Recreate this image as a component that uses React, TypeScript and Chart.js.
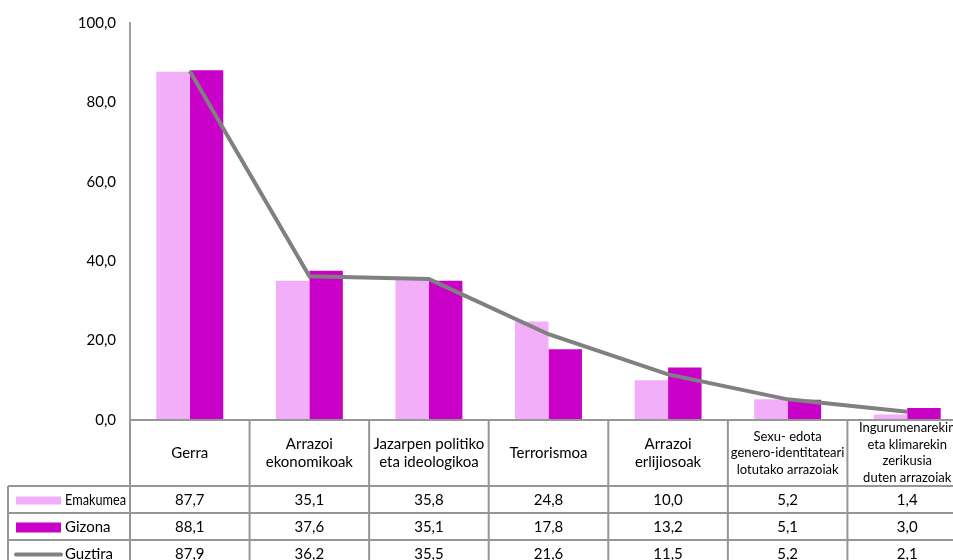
import React, { useEffect, useRef } from 'react';
import { Chart, registerables } from 'chart.js';

Chart.register(...registerables);

const categories: string[][] = [
  ['Gerra'],
  ['Arrazoi', 'ekonomikoak'],
  ['Jazarpen politiko', 'eta ideologikoa'],
  ['Terrorismoa'],
  ['Arrazoi', 'erlijiosoak'],
  ['Sexu- edota', 'genero-identitateari', 'lotutako arrazoiak'],
  ['Ingurumenarekin', 'eta klimarekin', 'zerikusia', 'duten arrazoiak'],
];
const seriesNames = ['Emakumea', 'Gizona', 'Guztira'];
const emakumea = [87.7, 35.1, 35.8, 24.8, 10.0, 5.2, 1.4];
const gizona = [88.1, 37.6, 35.1, 17.8, 13.2, 5.1, 3.0];
const guztira = [87.9, 36.2, 35.5, 21.6, 11.5, 5.2, 2.1];
const yTicks = [0, 20, 40, 60, 80, 100];

const PINK = 'rgb(243,174,250)';
const MAGENTA = 'rgb(200,0,200)';
const GREY = 'rgb(128,128,128)';
const BORDER = 'rgb(150,150,150)';
const FONT = 'Lato, "Open Sans", sans-serif';

const fmt = (v: number) => v.toFixed(1).replace('.', ',');

const tablePlugin = {
  id: 'dataTable',
  afterDraw(chart: any) {
    const ctx = chart.ctx as CanvasRenderingContext2D;
    const x = chart.scales.x;
    const area = chart.chartArea;
    const n = categories.length;
    const colW = (area.right - area.left) / n;
    const top = area.bottom;
    const headerBottom = top + 66;
    const rowH = 27;
    const rows = [emakumea, gizona, guztira];
    const legendLeft = 8;
    ctx.save();
    ctx.strokeStyle = BORDER;
    ctx.lineWidth = 2;
    ctx.beginPath();
    ctx.moveTo(area.left, top);
    ctx.lineTo(area.right, top);
    for (let r = 0; r <= 3; r++) {
      const y = headerBottom + r * rowH;
      ctx.moveTo(legendLeft, y);
      ctx.lineTo(area.right, y);
    }
    for (let i = 0; i <= n; i++) {
      const xx = area.left + i * colW;
      ctx.moveTo(xx, top);
      ctx.lineTo(xx, headerBottom + 3 * rowH + 10);
    }
    ctx.moveTo(legendLeft, headerBottom);
    ctx.lineTo(legendLeft, headerBottom + 3 * rowH + 10);
    ctx.stroke();

    ctx.fillStyle = '#000';
    ctx.textAlign = 'center';
    ctx.textBaseline = 'middle';
    categories.forEach((lines, i) => {
      const cx = x.getPixelForValue(i);
      const small = lines.length >= 3;
      const fs = small ? 13 : 15;
      const lh = small ? 16.5 : 18;
      ctx.font = `${fs}px ${FONT}`;
      const cy = (top + headerBottom) / 2;
      lines.forEach((t, k) => {
        ctx.fillText(t, cx, cy + (k - (lines.length - 1) / 2) * lh);
      });
    });
    ctx.font = `15px ${FONT}`;
    rows.forEach((arr, r) => {
      const cy = headerBottom + r * rowH + rowH / 2 + 1;
      arr.forEach((v, i) => {
        ctx.fillText(fmt(v), x.getPixelForValue(i), cy);
      });
    });
    ctx.textAlign = 'left';
    const drawName = (name: string, cy: number, size: number, maxW: number) => {
      ctx.font = `${size}px ${FONT}`;
      ctx.fillStyle = '#000';
      const w = ctx.measureText(name).width;
      const sx = w > maxW ? maxW / w : 1;
      ctx.save();
      ctx.translate(65, cy);
      ctx.scale(sx, 1);
      ctx.fillText(name, 0, 0);
      ctx.restore();
    };
    seriesNames.forEach((name, r) => {
      const cy = headerBottom + r * rowH + rowH / 2 + 1;
      if (r === 0) {
        ctx.fillStyle = PINK;
        ctx.fillRect(16, cy - 4, 45, 8);
        drawName(name, cy, 15, 61);
      } else if (r === 1) {
        ctx.fillStyle = MAGENTA;
        ctx.fillRect(16, cy - 5, 45, 10);
        drawName(name, cy, 15, 61);
      } else {
        ctx.strokeStyle = GREY;
        ctx.lineWidth = 4;
        ctx.lineCap = 'round';
        ctx.beginPath();
        ctx.moveTo(16, cy);
        ctx.lineTo(61, cy);
        ctx.stroke();
        drawName(name, cy, 15, 61);
      }
    });
    ctx.restore();
  },
};

export default function App() {
  const ref = useRef<HTMLCanvasElement | null>(null);
  useEffect(() => {
    if (!ref.current) return;
    const chart = new Chart(ref.current, {
      type: 'bar',
      data: {
        labels: categories.map((c) => c.join(' ')),
        datasets: [
          {
            type: 'line',
            label: seriesNames[2],
            data: guztira,
            borderColor: GREY,
            borderWidth: 4,
            pointRadius: 0,
            tension: 0,
            order: 0,
          } as any,
          {
            label: seriesNames[0],
            data: emakumea,
            backgroundColor: PINK,
            order: 1,
          },
          {
            label: seriesNames[1],
            data: gizona,
            backgroundColor: MAGENTA,
            order: 1,
          },
        ],
      },
      options: {
        responsive: false,
        animation: false,
        layout: { padding: { left: 0, top: 15, right: 13, bottom: 140 } },
        plugins: { legend: { display: false }, tooltip: { enabled: false } },
        datasets: { bar: { categoryPercentage: 0.56, barPercentage: 1 } } as any,
        scales: {
          x: { display: false },
          y: {
            min: 0,
            max: 100,
            afterFit: (s: any) => {
              s.width = 130;
            },
            afterBuildTicks: (s: any) => {
              s.ticks = yTicks.map((v) => ({ value: v }));
            },
            grid: { display: false, drawTicks: false },
            border: { display: true, color: 'rgb(160,160,160)', width: 2 },
            ticks: {
              padding: 14,
              color: '#000',
              font: { family: FONT, size: 15 },
              callback: (v: any) => fmt(Number(v)),
            },
          },
        },
      },
      plugins: [tablePlugin],
    });
    return () => chart.destroy();
  }, []);
  return (
    <div style={{ position: 'fixed', left: 0, top: 0, width: 953, height: 560, overflow: 'hidden', background: '#fff' }}>
      <canvas ref={ref} width={980} height={560} style={{ display: 'block' }} />
    </div>
  );
}
